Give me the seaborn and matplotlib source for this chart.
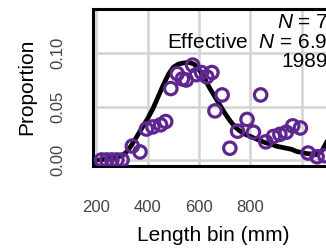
import matplotlib
matplotlib.use("Agg")
import matplotlib.pyplot as plt
import seaborn as sns
import pandas as pd

# observed proportions (open circles)
obs_len = [220, 240, 260, 280, 300, 340, 370, 395, 420, 450, 470, 490, 515, 535, 550,
           575, 590, 610, 630, 650, 662, 690, 720, 750, 787, 812, 840, 860, 890, 915, 940,
           965, 995, 1025, 1060, 1090]
obs_prop = [0.0, 0.0, 0.0, 0.0, 0.0, 0.013, 0.0075, 0.029, 0.031, 0.033, 0.036, 0.067,
            0.081, 0.076, 0.075, 0.089, 0.080, 0.082, 0.078, 0.082, 0.046, 0.061, 0.011,
            0.027, 0.038, 0.026, 0.061, 0.017, 0.022, 0.024, 0.026, 0.032, 0.030, 0.0065,
            0.003, 0.004]

# expected proportions (black line)
exp_len = [210, 240, 270, 300, 320, 340, 360, 380, 400, 420, 440, 460, 480, 500, 520, 540,
           560, 580, 600, 620, 640, 660, 680, 700, 720, 740, 760, 780, 800, 820, 840, 860,
           880, 900, 920, 940, 960, 980, 1000, 1020, 1040, 1060, 1080, 1100]
exp_prop = [0.0, 0.001, 0.002, 0.004, 0.008, 0.015, 0.023, 0.031, 0.039, 0.048, 0.059,
            0.070, 0.080, 0.087, 0.090, 0.091, 0.0915, 0.090, 0.085, 0.077, 0.068, 0.060,
            0.052, 0.044, 0.037, 0.031, 0.027, 0.024, 0.022, 0.020, 0.018, 0.016, 0.015,
            0.013, 0.012, 0.011, 0.010, 0.008, 0.007, 0.006, 0.0055, 0.005, 0.009, 0.018]

x_ticks = [200, 400, 600, 800, 1000]
x_tick_labels = ["200", "400", "600", "800", ""]
y_ticks = [0.00, 0.05, 0.10]
y_tick_labels = ["0.00", "0.05", "0.10"]
labels_text = ["$N$ = 7", "Effective  $N$ = 6.9", "1989"]

sns.set_style("white")
plt.rcParams["font.family"] = ["Liberation Sans", "DejaVu Sans"]
plt.rcParams["mathtext.fontset"] = "custom"
plt.rcParams["mathtext.rm"] = "Liberation Sans"
plt.rcParams["mathtext.it"] = "Liberation Sans:italic"

W, H = 326, 249
fig = plt.figure(figsize=(W / 100, H / 100), dpi=100)
left, right, top, bottom = 93, 333, 9, 165.5
ax = fig.add_axes([left / W, (H - bottom) / H, (right - left) / W, (bottom - top) / H])

df_obs = pd.DataFrame({"len": obs_len, "prop": obs_prop})
df_exp = pd.DataFrame({"len": exp_len, "prop": exp_prop})

for xv in x_ticks:
    ax.axvline(xv, color="#D3D3D3", lw=1.8, zorder=0)
for yv in y_ticks:
    ax.axhline(yv, color="#D3D3D3", lw=1.8, zorder=0)

sns.lineplot(data=df_exp, x="len", y="prop", color="black", lw=3.4, ax=ax, zorder=2)
sns.scatterplot(data=df_obs, x="len", y="prop", marker="o", s=80, facecolor="none",
                edgecolor="#5F2690", linewidth=2.3, ax=ax, zorder=3)

ax.set_xlim(186.7, 1122)
ax.set_ylim(-0.0052, 0.1416)
ax.set_xticks(x_ticks)
ax.set_xticklabels(x_tick_labels)
ax.set_yticks(y_ticks)
ax.set_yticklabels(y_tick_labels, rotation=90, va="center")
ax.tick_params(axis="both", direction="out", length=11, width=2.2, color="black",
               labelsize=12, labelcolor="#444444")
ax.tick_params(axis="x", pad=14)
ax.tick_params(axis="y", pad=9)
for sp in ax.spines.values():
    sp.set_visible(True)
    sp.set_color("black")
    sp.set_linewidth(2.2)

ax.set_xlabel("Length bin (mm)", fontsize=15, color="black", labelpad=8)
ax.set_ylabel("Proportion", fontsize=15, color="black", labelpad=10)

xr = 328 / W
for txt, yp in zip(labels_text, [22, 42.5, 61.5]):
    fig.text(xr, 1 - yp / H, txt, ha="right", va="center", fontsize=15, color="black")

fig.savefig("out.png", dpi=100)
